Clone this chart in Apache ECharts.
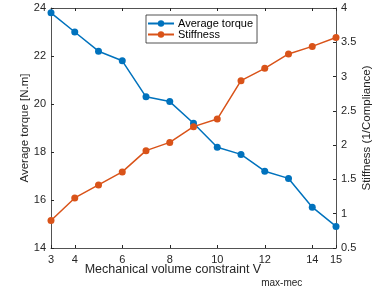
<!DOCTYPE html>
<html>
<head>
<meta charset="utf-8">
<script src="https://cdn.jsdelivr.net/npm/echarts@6/dist/echarts.min.js"></script>
<style>
  html, body { margin: 0; padding: 0; background: #fff; }
  #main { width: 376px; height: 293px; }
</style>
</head>
<body>
<div id="main"></div>
<script>
// volume constraint values
var volumes = [3, 4, 5, 6, 7, 8, 9, 10, 11, 12, 13, 14, 15];
var torque = [23.8, 23.0, 22.2, 21.8, 20.3, 20.1, 19.2, 18.2, 17.9, 17.2, 16.9, 15.7, 14.9];
var stiffness = [0.9, 1.23, 1.42, 1.61, 1.92, 2.04, 2.27, 2.38, 2.94, 3.12, 3.33, 3.44, 3.57];
var xTicks = [3, 4, 6, 8, 10, 12, 14, 15];

var axisCol = '#262626';
var fnt = 'Liberation Sans, Arial, sans-serif';

function pairs(ys) {
  var out = [];
  for (var i = 0; i < volumes.length; i++) {
    out.push([volumes[i], ys[i]]);
  }
  return out;
}

var chart = echarts.init(document.getElementById('main'));
var option = {
  animation: false,
  textStyle: { fontFamily: fnt },
  grid: { left: 51, right: 40, top: 8, bottom: 45, containLabel: false, outerBoundsMode: 'none' },
  legend: {
    orient: 'vertical',
    left: 146,
    top: 15,
    backgroundColor: '#fff',
    borderColor: '#262626',
    borderWidth: 0.8,
    padding: [3, 4, 3, 1],
    itemGap: 0,
    itemWidth: 26,
    itemHeight: 8,
    textStyle: { fontSize: 11, color: '#000', fontFamily: fnt, padding: [0, 0, 0, -1] },
    data: ['Average torque', 'Stiffness']
  },
  xAxis: [{
    type: 'value',
    min: 3,
    max: 15,
    name: '{a|Mechanical volume constraint V}{b|max-mec}',
    nameLocation: 'middle',
    nameGap: 4,
    nameMoveOverlap: false,
    nameTextStyle: {
      rich: {
        a: { fontSize: 12.5, color: axisCol, fontFamily: fnt },
        b: { fontSize: 10, color: axisCol, fontFamily: fnt, padding: [26, 0, 0, 0] }
      }
    },
    axisLine: { lineStyle: { color: axisCol, width: 0.8 } },
    axisTick: { inside: true, length: 3, customValues: xTicks, lineStyle: { color: axisCol } },
    axisLabel: { customValues: xTicks, fontSize: 11, color: axisCol, margin: 6 },
    splitLine: { show: false }
  }, {
    type: 'value',
    position: 'top',
    min: 3,
    max: 15,
    axisLine: { lineStyle: { color: axisCol, width: 0.8 } },
    axisTick: { inside: true, length: 3, customValues: xTicks, lineStyle: { color: axisCol } },
    axisLabel: { show: false },
    splitLine: { show: false }
  }],
  yAxis: [{
    type: 'value',
    min: 14,
    max: 24,
    interval: 2,
    name: 'Average torque [N.m]',
    nameLocation: 'middle',
    nameGap: 20,
    nameMoveOverlap: false,
    nameTextStyle: { fontSize: 11.5, color: axisCol },
    axisLine: { show: true, lineStyle: { color: axisCol, width: 0.8 } },
    axisTick: { show: true, inside: true, length: 3, lineStyle: { color: axisCol } },
    axisLabel: { fontSize: 11, color: axisCol, margin: 5 },
    splitLine: { show: false }
  }, {
    type: 'value',
    position: 'right',
    min: 0.5,
    max: 4,
    interval: 0.5,
    name: 'Stiffness (1/Compliance)',
    nameLocation: 'middle',
    nameGap: 25,
    nameRotate: 90,
    nameMoveOverlap: false,
    nameTextStyle: { fontSize: 11.5, color: axisCol },
    axisLine: { show: true, lineStyle: { color: axisCol, width: 0.8 } },
    axisTick: { show: true, inside: true, length: 3, lineStyle: { color: axisCol } },
    axisLabel: { fontSize: 11, color: axisCol, margin: 5 },
    splitLine: { show: false }
  }],
  series: [{
    name: 'Average torque',
    type: 'line',
    yAxisIndex: 0,
    data: pairs(torque),
    symbol: 'circle',
    symbolSize: 7,
    color: '#0072BD',
    lineStyle: { width: 1.5, color: '#0072BD' },
    itemStyle: { color: '#0072BD' }
  }, {
    name: 'Stiffness',
    type: 'line',
    yAxisIndex: 1,
    data: pairs(stiffness),
    symbol: 'circle',
    symbolSize: 7,
    color: '#D95319',
    lineStyle: { width: 1.5, color: '#D95319' },
    itemStyle: { color: '#D95319' }
  }]
};
chart.setOption(option);
</script>
</body>
</html>
